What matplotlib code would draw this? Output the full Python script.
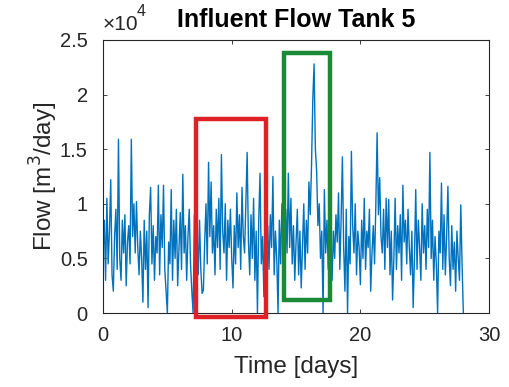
import numpy as np
import matplotlib
matplotlib.use('Agg')
from matplotlib import pyplot as plt
from matplotlib.patches import Rectangle

# flow in units of 1e4 m3/day, one value every 0.1 day (day 0.0 .. 28.0)
flow = [
    0.55, 0.85, 0.30, 1.05, 0.45, 0.75, 1.22, 0.35, 0.20, 0.70,
    0.95, 0.40, 1.59, 0.50, 0.30, 0.85, 0.55, 0.90, 0.25, 0.65,
    0.80, 0.45, 1.59, 0.70, 1.00, 0.55, 1.02, 0.60, 0.35, 0.75,
    0.50, 0.10, 0.85, 0.40, 0.75, 0.05, 0.90, 1.15, 0.45, 0.80,
    0.30, 0.70, 0.55, 1.17, 0.35, 0.90, 0.60, 1.17, 0.40, 0.20,
    0.00, 0.65, 0.45, 1.13, 0.30, 0.85, 0.50, 0.95, 0.25, 0.60,
    0.92, 0.40, 1.27, 0.55, 0.80, 0.30, 0.70, 0.95, 0.45, 0.20,
    0.00, 0.90, 0.60, 0.75, 0.35, 0.85, 0.40, 0.18, 0.21, 0.65,
    1.00, 0.45, 1.38, 0.70, 1.20, 0.55, 0.80, 0.35, 0.95, 0.60,
    1.05, 0.40, 1.45, 0.75, 0.55, 1.00, 0.30, 0.85, 0.60, 0.95,
    0.50, 0.23, 0.80, 0.45, 1.10, 0.60, 0.90, 0.40, 1.15, 0.70,
    0.55, 1.00, 1.47, 0.65, 0.35, 0.90, 0.50, 1.05, 0.30, 0.75,
    0.00, 0.85, 1.28, 0.45, 0.70, 0.15, 0.95, 0.55, 0.80, 0.40,
    0.90, 0.60, 1.25, 0.35, 0.75, 0.50, 0.00, 0.85, 0.45, 1.00,
    0.70, 0.40, 0.95, 0.55, 1.28, 0.60, 1.05, 0.45, 0.80, 0.30,
    0.65, 0.95, 0.35, 0.75, 0.23, 0.60, 1.00, 0.40, 0.85, 0.55,
    1.20, 0.90, 1.34, 1.95, 2.28, 1.50, 1.30, 0.80, 1.00, 0.50,
    0.75, 0.00, 1.13, 0.55, 0.85, 0.40, 0.95, 0.60, 0.30, 0.75,
    0.50, 0.90, 0.65, 1.10, 0.40, 0.85, 1.43, 0.60, 0.20, 0.95,
    0.00, 0.70, 0.45, 1.48, 0.80, 0.55, 1.00, 0.35, 0.75, 0.60,
    0.26, 0.85, 0.50, 1.05, 0.40, 0.75, 0.60, 0.95, 0.20, 0.55,
    0.80, 0.45, 1.00, 1.65, 0.90, 1.24, 0.70, 0.55, 0.95, 0.40,
    1.05, 0.60, 1.04, 0.35, 0.75, 0.12, 0.50, 1.05, 0.40, 0.80,
    0.55, 0.90, 0.30, 1.17, 0.65, 0.85, 0.45, 0.95, 0.60, 0.35,
    0.75, 0.05, 0.50, 1.13, 0.40, 0.85, 0.60, 0.30, 1.00, 0.55,
    0.80, 0.40, 0.95, 0.60, 1.47, 0.50, 0.85, 0.30, 0.70, 0.45,
    0.00, 0.75, 0.55, 1.19, 0.40, 0.90, 0.35, 0.70, 1.16, 0.50,
    0.25, 0.80, 0.40, 0.65, 0.20, 0.75, 0.50, 0.30, 0.99, 0.45,
    0.00,
]
time_days = np.arange(len(flow)) * 0.1

xticks = [0, 10, 20, 30]
yticks = [0, 0.5, 1, 1.5, 2, 2.5]
ytick_labels = ['0', '0.5', '1', '1.5', '2', '2.5']

# highlighted windows: (x0, x1, y0, y1)
red_box = (7.2, 12.65, -0.04, 1.78)
green_box = (14.1, 17.6, 0.12, 2.38)

plt.rcParams['font.family'] = ['Liberation Sans', 'DejaVu Sans']
axcol = '#262626'

fig = plt.figure(figsize=(5.10, 3.87), dpi=100)
ax = fig.add_axes([0.202, 0.191, 0.757, 0.706])

ax.plot(time_days, flow, color='#0072BD', linewidth=1.0)

ax.set_xlim(0, 30)
ax.set_ylim(0, 2.5)
ax.set_xticks(xticks)
ax.set_yticks(yticks)
ax.set_yticklabels(ytick_labels)
ax.tick_params(direction='in', length=3, width=0.6, colors=axcol,
               labelsize=14.5, top=True, right=True)
ax.tick_params(axis='x', pad=9)
ax.tick_params(axis='y', pad=11)
for s in ax.spines.values():
    s.set_color(axcol)
    s.set_linewidth(0.8)

ax.set_xlabel('Time [days]', fontsize=17.5, color=axcol, labelpad=8)
ax.set_ylabel('Flow [m$^3$/day]', fontsize=17.5, color=axcol, labelpad=0)
ax.set_title('Influent Flow Tank 5', fontsize=18, fontweight='bold', pad=9)

# exponent label, MATLAB style
ax.text(0.0, 1.02, '\u00d710', transform=ax.transAxes,
        fontsize=15, color=axcol, ha='left', va='bottom')
ax.text(0.088, 1.075, '4', transform=ax.transAxes,
        fontsize=11.5, color=axcol, ha='left', va='bottom')

for (x0, x1, y0, y1), col in [(red_box, '#DD2127'), (green_box, '#1A8A36')]:
    ax.add_patch(Rectangle((x0, y0), x1 - x0, y1 - y0, fill=False,
                           edgecolor=col, linewidth=3.2, clip_on=False, zorder=5))

fig.savefig('out.png', dpi=100)
